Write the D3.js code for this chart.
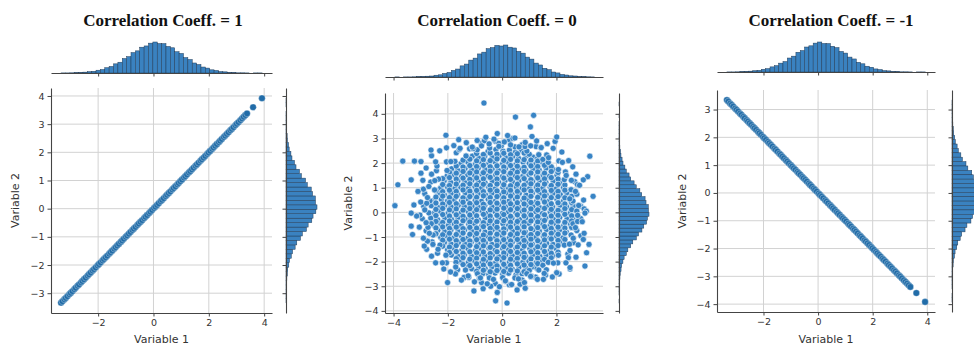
<!DOCTYPE html>
<html>
<head>
<meta charset="utf-8">
<script src="https://cdn.jsdelivr.net/npm/d3@7"></script>
<style>
  html, body { margin: 0; padding: 0; background: #fff; }
  svg { display: block; }
</style>
</head>
<body>
<svg id="chart" width="974" height="349"></svg>
<script>
const titles = ["Correlation Coeff. = 1", "Correlation Coeff. = 0", "Correlation Coeff. = -1"];
const axisLabels = ["Variable 1", "Variable 2"];

const xTicks = [[-2, 0, 2, 4], [-4, -2, 0, 2], [-2, 0, 2, 4]];
const yTicks = [[-3, -2, -1, 0, 1, 2, 3, 4], [-4, -3, -2, -1, 0, 1, 2, 3, 4], [-4, -3, -2, -1, 0, 1, 2, 3]];

// Variable 1 sample used by the +1 / -1 panels (Variable 2 = +/- Variable 1)
const lineVar1 = [-3.34, -3.29, -3.22, -3.17, -3.11, -3.04, -2.99, -2.93, -2.86, -2.81, -2.74, -2.69, -2.62, -2.57,
  -2.51, -2.45, -2.38, -2.33, -2.27, -2.2, -2.15, -2.09, -2.02, -1.97, -1.91, -1.84, -1.79, -1.73, -1.67, -1.6,
  -1.55, -1.49, -1.42, -1.37, -1.31, -1.25, -1.18, -1.13, -1.07, -1.0, -0.95, -0.89, -0.83, -0.76, -0.71, -0.65,
  -0.58, -0.53, -0.47, -0.41, -0.34, -0.29, -0.23, -0.16, -0.11, -0.05, 0.02, 0.07, 0.13, 0.19, 0.26, 0.31, 0.37,
  0.44, 0.49, 0.55, 0.61, 0.68, 0.73, 0.79, 0.86, 0.91, 0.97, 1.03, 1.1, 1.15, 1.21, 1.28, 1.33, 1.39, 1.45, 1.52,
  1.57, 1.63, 1.7, 1.75, 1.81, 1.87, 1.94, 1.99, 2.05, 2.12, 2.17, 2.23, 2.29, 2.36, 2.41, 2.47, 2.54, 2.59, 2.65,
  2.71, 2.78, 2.83, 2.89, 2.96, 3.01, 3.07, 3.14, 3.2, 3.26, 3.32, 3.38, 3.6, 3.92];

// uncorrelated cloud (Variable 1, Variable 2): dense core
const cloudCore = [
  [-0.52,2.47],[-0.23,2.55],[0.03,2.49],[0.27,2.53],[0.49,2.44],[0.71,2.52],
  [-1.1,2.28],[-0.86,2.2],[-0.64,2.29],[-0.36,2.22],[-0.11,2.3],[0.14,2.21],[0.39,2.27],[0.6,2.2],[0.89,2.3],[1.13,2.24],[1.3,2.18],
  [-1.52,1.97],[-1.26,2.04],[-0.98,1.96],[-0.76,2.03],[-0.49,1.98],[-0.26,2.05],[0.02,1.97],[0.24,2.02],[0.51,1.95],[0.77,2.04],[1.0,1.99],[1.24,1.96],[1.49,2.03],[1.66,1.95],
  [-1.86,1.77],[-1.63,1.7],[-1.37,1.78],[-1.12,1.72],[-0.88,1.8],[-0.62,1.73],[-0.37,1.76],[-0.14,1.7],[0.12,1.79],[0.38,1.72],[0.63,1.77],[0.87,1.71],[1.14,1.78],[1.36,1.73],[1.62,1.8],[1.88,1.74],
  [-2.03,1.47],[-1.76,1.53],[-1.49,1.46],[-1.27,1.52],[-1.01,1.49],[-0.74,1.55],[-0.52,1.47],[-0.24,1.52],[0.01,1.45],[0.26,1.53],[0.48,1.49],[0.76,1.46],[0.99,1.54],[1.27,1.48],[1.51,1.52],[1.74,1.46],[2.02,1.51],
  [-2.14,1.27],[-1.89,1.21],[-1.63,1.28],[-1.38,1.22],[-1.12,1.3],[-0.87,1.24],[-0.63,1.2],[-0.36,1.27],[-0.13,1.22],[0.11,1.29],[0.38,1.23],[0.62,1.28],[0.89,1.21],[1.12,1.26],[1.38,1.3],[1.61,1.22],[1.88,1.27],[2.12,1.21],
  [-2.27,0.98],[-2.01,1.03],[-1.74,0.96],[-1.52,1.02],[-1.24,0.97],[-1.0,1.05],[-0.77,0.98],[-0.49,1.02],[-0.26,0.95],[0.03,1.01],[0.24,0.97],[0.52,1.04],[0.74,0.98],[1.01,0.96],[1.26,1.03],[1.49,0.97],[1.77,1.02],[1.99,0.95],[2.26,1.01],
  [-2.36,0.77],[-2.13,0.71],[-1.87,0.78],[-1.64,0.72],[-1.36,0.79],[-1.13,0.73],[-0.88,0.76],[-0.61,0.7],[-0.38,0.78],[-0.12,0.72],[0.14,0.79],[0.36,0.73],[0.63,0.77],[0.88,0.7],[1.11,0.78],[1.39,0.74],[1.62,0.71],[1.87,0.77],[2.14,0.72],[2.38,0.79],
  [-2.52,0.48],[-2.24,0.53],[-2.01,0.46],[-1.77,0.52],[-1.49,0.47],[-1.26,0.54],[-0.99,0.49],[-0.76,0.45],[-0.51,0.53],[-0.24,0.47],[0.02,0.52],[0.26,0.46],[0.49,0.54],[0.77,0.48],[0.98,0.51],[1.27,0.45],[1.51,0.53],[1.74,0.47],[2.02,0.52],[2.26,0.46],[2.49,0.53],
  [-2.61,0.27],[-2.37,0.21],[-2.12,0.28],[-1.88,0.22],[-1.62,0.29],[-1.39,0.23],[-1.11,0.26],[-0.87,0.2],[-0.64,0.28],[-0.37,0.22],[-0.13,0.29],[0.12,0.23],[0.38,0.27],[0.61,0.21],[0.88,0.28],[1.13,0.24],[1.37,0.2],[1.64,0.27],[1.86,0.22],[2.13,0.29],[2.37,0.23],[2.62,0.26],
  [-2.49,-0.02],[-2.27,0.04],[-1.99,-0.03],[-1.76,0.03],[-1.52,-0.04],[-1.24,0.02],[-1.01,-0.01],[-0.74,0.05],[-0.52,-0.03],[-0.26,0.03],[0.01,-0.04],[0.23,0.02],[0.51,-0.02],[0.74,0.04],[1.02,-0.03],[1.24,0.03],[1.48,-0.05],[1.77,0.02],[1.99,-0.02],[2.27,0.04],[2.51,-0.03],
  [-2.63,-0.23],[-2.38,-0.29],[-2.11,-0.22],[-1.87,-0.28],[-1.63,-0.21],[-1.36,-0.27],[-1.14,-0.24],[-0.88,-0.3],[-0.62,-0.22],[-0.39,-0.28],[-0.11,-0.21],[0.13,-0.27],[0.36,-0.23],[0.64,-0.29],[0.87,-0.22],[1.12,-0.26],[1.38,-0.3],[1.61,-0.23],[1.89,-0.28],[2.12,-0.21],[2.39,-0.27],[2.6,-0.24],
  [-2.51,-0.52],[-2.26,-0.46],[-1.98,-0.53],[-1.76,-0.47],[-1.51,-0.54],[-1.23,-0.48],[-1.02,-0.45],[-0.74,-0.53],[-0.49,-0.47],[-0.27,-0.52],[0.03,-0.46],[0.24,-0.54],[0.52,-0.48],[0.76,-0.51],[0.99,-0.45],[1.26,-0.53],[1.5,-0.47],[1.77,-0.52],[1.98,-0.46],[2.27,-0.54],[2.52,-0.48],
  [-2.37,-0.73],[-2.12,-0.79],[-1.89,-0.72],[-1.62,-0.78],[-1.38,-0.71],[-1.11,-0.77],[-0.87,-0.73],[-0.63,-0.8],[-0.37,-0.72],[-0.14,-0.78],[0.12,-0.71],[0.39,-0.77],[0.62,-0.74],[0.86,-0.8],[1.13,-0.72],[1.37,-0.76],[1.63,-0.7],[1.88,-0.78],[2.11,-0.73],[2.36,-0.79],
  [-2.26,-1.02],[-2.02,-0.96],[-1.77,-1.03],[-1.49,-0.97],[-1.26,-1.04],[-0.99,-0.98],[-0.76,-1.05],[-0.52,-0.97],[-0.24,-1.02],[0.01,-0.95],[0.27,-1.03],[0.49,-0.98],[0.76,-1.04],[0.98,-0.96],[1.24,-1.01],[1.52,-0.97],[1.76,-1.04],[2.01,-0.98],[2.24,-1.03],
  [-2.13,-1.23],[-1.88,-1.29],[-1.61,-1.22],[-1.37,-1.28],[-1.14,-1.21],[-0.89,-1.27],[-0.62,-1.24],[-0.38,-1.3],[-0.11,-1.22],[0.14,-1.28],[0.37,-1.21],[0.63,-1.27],[0.88,-1.23],[1.11,-1.29],[1.38,-1.22],[1.64,-1.26],[1.87,-1.3],[2.13,-1.23],
  [-2.01,-1.52],[-1.77,-1.46],[-1.48,-1.53],[-1.26,-1.47],[-0.98,-1.54],[-0.77,-1.48],[-0.49,-1.45],[-0.26,-1.53],[0.02,-1.47],[0.24,-1.52],[0.51,-1.46],[0.74,-1.54],[1.02,-1.48],[1.23,-1.51],[1.49,-1.45],[1.77,-1.53],[1.99,-1.47],
  [-1.87,-1.73],[-1.62,-1.79],[-1.39,-1.72],[-1.13,-1.78],[-0.86,-1.71],[-0.64,-1.77],[-0.36,-1.73],[-0.12,-1.8],[0.13,-1.72],[0.37,-1.76],[0.64,-1.7],[0.86,-1.78],[1.12,-1.73],[1.39,-1.79],[1.62,-1.72],[1.86,-1.77],
  [-1.63,-2.02],[-1.51,-1.96],[-1.24,-2.03],[-1.01,-1.97],[-0.74,-2.04],[-0.52,-1.98],[-0.24,-2.05],[0.01,-1.97],[0.27,-2.02],[0.49,-1.95],[0.76,-2.03],[0.99,-1.98],[1.26,-2.04],[1.48,-1.96],[1.68,-2.01],
  [-1.28,-2.23],[-1.12,-2.29],[-0.87,-2.22],[-0.63,-2.28],[-0.38,-2.21],[-0.12,-2.27],[0.14,-2.24],[0.37,-2.3],[0.62,-2.22],[0.88,-2.27],[1.12,-2.21],[1.29,-2.28],
  [-0.71,-2.48],[-0.49,-2.53],[-0.26,-2.46],[0.02,-2.52],[0.24,-2.47],[0.51,-2.54],[0.73,-2.49]
];

// more core points in between
const cloudFill = [
  [-0.94,2.39],[-0.69,2.35],[-0.44,2.41],[-0.19,2.36],[0.06,2.4],[0.31,2.34],[0.56,2.38],[0.81,2.41],[1.0,2.36],
  [-1.44,2.12],[-1.19,2.16],[-0.94,2.09],[-0.69,2.14],[-0.44,2.1],[-0.19,2.17],[0.06,2.11],[0.31,2.15],[0.56,2.09],[0.81,2.14],[1.06,2.12],[1.31,2.08],[1.5,2.15],
  [-1.69,1.88],[-1.44,1.84],[-1.19,1.9],[-0.94,1.86],[-0.69,1.91],[-0.44,1.85],[-0.19,1.89],[0.06,1.84],[0.31,1.9],[0.56,1.87],[0.81,1.83],[1.06,1.89],[1.31,1.86],[1.56,1.91],[1.81,1.85],
  [-1.94,1.63],[-1.69,1.59],[-1.44,1.66],[-1.19,1.6],[-0.94,1.64],[-0.69,1.61],[-0.44,1.67],[-0.19,1.6],[0.06,1.65],[0.31,1.59],[0.56,1.63],[0.81,1.66],[1.06,1.6],[1.31,1.64],[1.56,1.59],[1.81,1.66],[2.06,1.62],
  [-2.19,1.37],[-1.94,1.41],[-1.69,1.35],[-1.44,1.39],[-1.19,1.34],[-0.94,1.4],[-0.69,1.36],[-0.44,1.42],[-0.19,1.35],[0.06,1.39],[0.31,1.34],[0.56,1.41],[0.81,1.37],[1.06,1.33],[1.31,1.4],[1.56,1.36],[1.81,1.41],[2.06,1.35],
  [-2.19,1.13],[-1.94,1.09],[-1.69,1.15],[-1.44,1.1],[-1.19,1.16],[-0.94,1.11],[-0.69,1.14],[-0.44,1.09],[-0.19,1.15],[0.06,1.12],[0.31,1.08],[0.56,1.14],[0.81,1.1],[1.06,1.16],[1.31,1.11],[1.56,1.15],[1.81,1.09],[2.06,1.14],[2.31,1.11],
  [-2.44,0.88],[-2.19,0.84],[-1.94,0.9],[-1.69,0.85],[-1.44,0.91],[-1.19,0.86],[-0.94,0.89],[-0.69,0.84],[-0.44,0.9],[-0.19,0.87],[0.06,0.83],[0.31,0.89],[0.56,0.85],[0.81,0.91],[1.06,0.86],[1.31,0.9],[1.56,0.84],[1.81,0.89],[2.06,0.85],[2.31,0.9],
  [-2.44,0.62],[-2.19,0.66],[-1.94,0.6],[-1.69,0.65],[-1.44,0.59],[-1.19,0.64],[-0.94,0.61],[-0.69,0.67],[-0.44,0.6],[-0.19,0.64],[0.06,0.59],[0.31,0.66],[0.56,0.62],[0.81,0.58],[1.06,0.65],[1.31,0.61],[1.56,0.66],[1.81,0.6],[2.06,0.64],[2.31,0.59],[2.56,0.65],
  [-2.44,0.38],[-2.19,0.34],[-1.94,0.4],[-1.69,0.35],[-1.44,0.41],[-1.19,0.36],[-0.94,0.39],[-0.69,0.33],[-0.44,0.4],[-0.19,0.37],[0.06,0.41],[0.31,0.35],[0.56,0.39],[0.81,0.34],[1.06,0.4],[1.31,0.37],[1.56,0.42],[1.81,0.35],[2.06,0.39],[2.31,0.34],[2.56,0.4],
  [-2.44,0.12],[-2.19,0.16],[-1.94,0.1],[-1.69,0.14],[-1.44,0.09],[-1.19,0.15],[-0.94,0.11],[-0.69,0.16],[-0.44,0.1],[-0.19,0.13],[0.06,0.17],[0.31,0.11],[0.56,0.15],[0.81,0.09],[1.06,0.14],[1.31,0.1],[1.56,0.16],[1.81,0.12],[2.06,0.08],[2.31,0.15],[2.56,0.11],
  [-2.44,-0.13],[-2.19,-0.09],[-1.94,-0.15],[-1.69,-0.1],[-1.44,-0.16],[-1.19,-0.11],[-0.94,-0.14],[-0.69,-0.08],[-0.44,-0.15],[-0.19,-0.12],[0.06,-0.09],[0.31,-0.16],[0.56,-0.1],[0.81,-0.14],[1.06,-0.11],[1.31,-0.17],[1.56,-0.1],[1.81,-0.15],[2.06,-0.12],[2.31,-0.08],[2.56,-0.14],
  [-2.44,-0.37],[-2.19,-0.41],[-1.94,-0.35],[-1.69,-0.4],[-1.44,-0.34],[-1.19,-0.39],[-0.94,-0.36],[-0.69,-0.42],[-0.44,-0.35],[-0.19,-0.39],[0.06,-0.34],[0.31,-0.4],[0.56,-0.37],[0.81,-0.41],[1.06,-0.35],[1.31,-0.39],[1.56,-0.33],[1.81,-0.4],[2.06,-0.36],[2.31,-0.41],[2.56,-0.35],
  [-2.44,-0.63],[-2.19,-0.59],[-1.94,-0.65],[-1.69,-0.6],[-1.44,-0.66],[-1.19,-0.61],[-0.94,-0.64],[-0.69,-0.58],[-0.44,-0.65],[-0.19,-0.61],[0.06,-0.67],[0.31,-0.6],[0.56,-0.64],[0.81,-0.59],[1.06,-0.66],[1.31,-0.62],[1.56,-0.58],[1.81,-0.65],[2.06,-0.6],[2.31,-0.64],[2.56,-0.61],
  [-2.44,-0.87],[-2.19,-0.91],[-1.94,-0.85],[-1.69,-0.9],[-1.44,-0.84],[-1.19,-0.89],[-0.94,-0.86],[-0.69,-0.92],[-0.44,-0.85],[-0.19,-0.89],[0.06,-0.84],[0.31,-0.9],[0.56,-0.87],[0.81,-0.83],[1.06,-0.9],[1.31,-0.86],[1.56,-0.91],[1.81,-0.85],[2.06,-0.89],[2.31,-0.84],
  [-2.19,-1.13],[-1.94,-1.09],[-1.69,-1.15],[-1.44,-1.1],[-1.19,-1.16],[-0.94,-1.11],[-0.69,-1.14],[-0.44,-1.08],[-0.19,-1.15],[0.06,-1.11],[0.31,-1.16],[0.56,-1.1],[0.81,-1.14],[1.06,-1.09],[1.31,-1.15],[1.56,-1.12],[1.81,-1.08],[2.06,-1.14],[2.31,-1.1],
  [-2.19,-1.37],[-1.94,-1.41],[-1.69,-1.35],[-1.44,-1.4],[-1.19,-1.34],[-0.94,-1.39],[-0.69,-1.36],[-0.44,-1.42],[-0.19,-1.35],[0.06,-1.39],[0.31,-1.34],[0.56,-1.41],[0.81,-1.37],[1.06,-1.33],[1.31,-1.4],[1.56,-1.36],[1.81,-1.41],[2.06,-1.35],
  [-1.94,-1.63],[-1.69,-1.59],[-1.44,-1.66],[-1.19,-1.6],[-0.94,-1.64],[-0.69,-1.61],[-0.44,-1.67],[-0.19,-1.6],[0.06,-1.65],[0.31,-1.59],[0.56,-1.63],[0.81,-1.66],[1.06,-1.6],[1.31,-1.64],[1.56,-1.59],[1.81,-1.66],[2.06,-1.62],
  [-1.69,-1.88],[-1.44,-1.84],[-1.19,-1.9],[-0.94,-1.86],[-0.69,-1.91],[-0.44,-1.85],[-0.19,-1.89],[0.06,-1.84],[0.31,-1.9],[0.56,-1.87],[0.81,-1.83],[1.06,-1.89],[1.31,-1.86],[1.56,-1.91],[1.81,-1.85],
  [-1.44,-2.12],[-1.19,-2.16],[-0.94,-2.09],[-0.69,-2.14],[-0.44,-2.1],[-0.19,-2.17],[0.06,-2.11],[0.31,-2.15],[0.56,-2.09],[0.81,-2.14],[1.06,-2.12],[1.31,-2.08],[1.5,-2.15],
  [-0.94,-2.39],[-0.69,-2.35],[-0.44,-2.41],[-0.19,-2.36],[0.06,-2.4],[0.31,-2.34],[0.56,-2.38],[0.81,-2.41],[1.0,-2.36]
];

// edge of the dense region
const cloudEdge = [
  [2.75,0.05],[2.89,0.25],[2.61,0.46],[2.75,0.74],[2.54,0.92],[2.67,1.25],[2.29,1.33],[2.33,1.64],[2.07,1.74],[2.09,2.09],
  [1.7,2.03],[1.64,2.33],[1.35,2.34],[1.25,2.67],[0.91,2.49],[0.74,2.75],[0.47,2.66],[0.26,2.94],[-0.03,2.7],[-0.25,2.89],
  [-0.46,2.61],[-0.75,2.8],[-0.92,2.54],[-1.2,2.58],[-1.33,2.29],[-1.69,2.42],[-1.74,2.07],[-2.05,2.05],[-2.03,1.7],[-2.42,1.69],
  [-2.34,1.35],[-2.63,1.23],[-2.49,0.91],[-2.85,0.76],[-2.66,0.47],[-2.89,0.25],[-2.7,-0.02],[-2.94,-0.26],[-2.61,-0.46],[-2.8,-0.75],
  [-2.54,-0.92],[-2.58,-1.2],[-2.29,-1.33],[-2.38,-1.66],[-2.07,-1.74],[-2.05,-2.05],[-1.7,-2.03],[-1.64,-2.33],[-1.35,-2.34],[-1.23,-2.63],
  [-0.91,-2.49],[-0.76,-2.85],[-0.47,-2.66],[-0.25,-2.89],[0.02,-2.65],[0.26,-2.94],[0.47,-2.66],[0.74,-2.75],[0.91,-2.49],[1.23,-2.63],
  [1.35,-2.34],[1.63,-2.33],[1.7,-2.03],[2.05,-2.05],[2.07,-1.74],[2.42,-1.69],[2.29,-1.33],[2.63,-1.23],[2.54,-0.92],[2.75,-0.74],
  [2.61,-0.46],[2.89,-0.25],
  [3.02,0.14],[2.49,0.55],[2.77,1.13],[2.36,1.5],[2.22,2.03],[1.71,2.22],[1.42,2.63],[0.84,2.67],[0.4,3.0],[-0.12,2.8],
  [-0.65,2.91],[-1.07,2.59],[-1.58,2.55],[-1.89,2.06],[-2.4,1.88],[-2.48,1.29],[-2.9,0.94],[-2.78,0.37],[-3.03,-0.11],[-2.73,-0.61],
  [-2.75,-1.17],[-2.36,-1.5],[-2.2,-2.05],[-1.71,-2.22],[-1.4,-2.64],[-0.84,-2.67],[-0.42,-3.0],[0.12,-2.8],[0.66,-2.92],[1.07,-2.59],
  [1.6,-2.55],[1.89,-2.06],[2.44,-1.84],[2.48,-1.29],[2.9,-0.95],[2.78,-0.37]
];

// sparser ring around the core
const cloudRing = [
  [-2.05,2.62],[-1.78,2.71],[-1.55,2.6],[-1.32,2.83],[-1.1,2.65],[-0.92,2.92],[-0.76,2.7],[-0.48,2.78],[-0.3,2.97],[-0.12,2.68],[0.08,2.86],[0.31,2.74],[0.47,3.02],[0.62,2.66],[0.85,2.84],[1.05,2.7],[1.27,2.9],[1.44,2.63],[1.66,2.79],[1.88,2.6],[1.95,2.88],[-1.6,2.95],[-2.3,2.5],[2.2,2.45],[-0.6,3.05],[1.1,3.08],[0.2,3.12],
  [2.45,2.1],[2.6,1.85],[2.72,1.55],[2.55,1.3],[2.85,1.1],[2.7,0.85],[3.0,0.5],[2.82,0.28],[3.1,0.05],[2.78,-0.12],[2.95,-0.38],[2.7,-0.62],[3.02,-0.85],[2.62,-1.05],[2.8,-1.32],[2.5,-1.55],[2.72,-1.82],[2.35,-2.05],[2.5,-2.3],[3.15,1.45],[3.2,-1.3],
  [2.1,-2.5],[1.85,-2.62],[1.55,-2.48],[1.3,-2.72],[1.05,-2.6],[0.82,-2.85],[0.6,-2.7],[0.35,-2.93],[0.12,-2.78],[-0.1,-3.02],[-0.32,-2.72],[-0.55,-2.9],[-0.8,-2.66],[-1.02,-2.82],[-1.25,-2.58],[-1.5,-2.75],[-1.72,-2.5],[-1.9,-2.42],[-2.15,-2.3],[0.85,-3.08],[-0.7,-3.1],[0.55,-3.15],
  [-2.45,-2.05],[-2.6,-1.78],[-2.78,-1.5],[-2.55,-1.3],[-2.9,-1.05],[-2.68,-0.85],[-3.05,-0.6],[-2.8,-0.42],[-3.15,-0.15],[-2.85,0.1],[-3.0,0.42],[-2.75,0.6],[-3.1,0.85],[-2.7,1.05],[-2.92,1.3],[-2.6,1.55],[-2.8,1.8],[-2.45,2.05],[-2.6,2.3],[-3.25,0.3],[-3.3,-0.9]
];

const cloudOutliers = [
  [-0.67,4.44],[0.49,3.87],[1.16,3.94],[1.04,3.47],[-2.07,3.13],[-0.18,3.2],[2.01,3.06],[3.23,2.28],[-3.66,2.08],[-3.23,2.08],[-2.99,2.06],[-3.84,1.12],[-3.95,0.27],[-3.35,1.32],[-2.99,1.59],[-2.62,2.53],[2.99,1.32],[3.35,0.65],[3.05,-0.03],[2.99,-1.1],[3.11,-1.64],[3.05,-2.18],[-2.01,-2.85],[-1.04,-3.19],[-0.24,-3.59],[0.18,-3.68],[-0.18,-3.25],[1.52,-2.72],[-3.35,-0.56],[-3.35,-0.03],[-2.87,-1.37],[2.01,-2.45],[2.5,-2.24]
];

// marginal histogram counts (bin start, bin width, counts)
const lineVar1Hist = { start: -3.34, width: 0.158,
  counts: [1,1,2,4,6,9,14,18,29,36,55,68,95,112,150,170,212,230,268,281,310,322,306,305,276,262,221,203,160,140,104,88,62,51,33,26,15,12,6,5,2,2,1,0,1,1] };
const cloudVar1Hist = { start: -3.95, width: 0.16,
  counts: [1,0,1,1,2,4,5,8,10,18,22,36,46,66,80,112,130,170,190,232,250,285,296,318,312,322,300,292,258,240,200,180,140,121,88,74,50,41,26,20,12,10,4,3,2,1] };
const cloudVar2Hist = { start: -3.68, width: 0.16,
  counts: [1,0,1,2,3,6,10,13,22,28,42,55,78,95,126,148,186,210,246,266,296,305,322,316,314,290,280,244,224,185,162,126,108,78,63,43,33,21,16,9,7,4,3,1,1,1,0,2,0,0,1] };

const cloudPoints = cloudCore.concat(cloudFill, cloudEdge, cloudRing, cloudOutliers);

const panels = [
  { pts: lineVar1.map(v => [v, v]), xHist: lineVar1Hist, yHist: lineVar1Hist, ySign: 1 },
  { pts: cloudPoints, xHist: cloudVar1Hist, yHist: cloudVar2Hist, ySign: 1 },
  { pts: lineVar1.map(v => [v, -v]), xHist: lineVar1Hist, yHist: lineVar1Hist, ySign: -1 }
];

const layout = [
  { L: 51, R: 272, T: 88, B: 313, topBase: 73, topPeak: 42, rightX0: 286, rightPeak: 317, titleX: 163, ylabX: 19 },
  { L: 385, R: 603, T: 93, B: 313, topBase: 77, topPeak: 45, rightX0: 619, rightPeak: 649, titleX: 497, ylabX: 352 },
  { L: 717, R: 935, T: 90, B: 312, topBase: 72, topPeak: 42, rightX0: 952, rightPeak: 982, titleX: 831, ylabX: 686 }
];

const svg = d3.select("#chart");
const fmt = d3.format("d");
const spineColor = "#444";

function padded(ext) {
  const d = (ext[1] - ext[0]) * 0.05;
  return [ext[0] - d, ext[1] + d];
}

function styleAxis(sel, showLabels) {
  sel.attr("font-family", "DejaVu Sans, sans-serif").attr("font-size", 9.5);
  sel.select(".domain").attr("stroke", spineColor).attr("stroke-width", 1.1);
  sel.selectAll(".tick line").attr("stroke", spineColor).attr("stroke-width", 1);
  sel.selectAll(".tick text").attr("fill", "#333");
  if (!showLabels) sel.selectAll(".tick text").remove();
}

panels.forEach((p, i) => {
  const lay = layout[i];
  const g = svg.append("g");

  const x = d3.scaleLinear().domain(padded(d3.extent(p.pts, d => d[0]))).range([lay.L, lay.R]);
  const y = d3.scaleLinear().domain(padded(d3.extent(p.pts, d => d[1]))).range([lay.B, lay.T]);

  // grid
  g.append("g").selectAll("line").data(xTicks[i]).join("line")
    .attr("x1", d => x(d)).attr("x2", d => x(d)).attr("y1", lay.T).attr("y2", lay.B)
    .attr("stroke", "#d2d2d2").attr("stroke-width", 1);
  g.append("g").selectAll("line").data(yTicks[i]).join("line")
    .attr("y1", d => y(d)).attr("y2", d => y(d)).attr("x1", lay.L).attr("x2", lay.R)
    .attr("stroke", "#d2d2d2").attr("stroke-width", 1);

  // scatter
  const isCloud = i === 1;
  g.append("g").selectAll("circle").data(p.pts).join("circle")
    .attr("cx", d => x(d[0])).attr("cy", d => y(d[1]))
    .attr("r", isCloud ? 3.1 : 3.3)
    .attr("fill", isCloud ? "#3884c5" : "#216ca8")
    .attr("stroke", "#fff").attr("stroke-width", isCloud ? 0.6 : 0.3);

  // top marginal histogram
  const hx = p.xHist;
  const cTop = d3.scaleLinear().domain([0, d3.max(hx.counts)]).range([lay.topBase, lay.topPeak]);
  g.append("g").selectAll("rect").data(hx.counts).join("rect")
    .attr("x", (c, j) => x(hx.start + j * hx.width))
    .attr("width", (c, j) => x(hx.start + (j + 1) * hx.width) - x(hx.start + j * hx.width))
    .attr("y", c => cTop(c))
    .attr("height", c => lay.topBase - cTop(c))
    .attr("fill", "#3a82c0").attr("stroke", "#223c58").attr("stroke-width", 0.5);

  // right marginal histogram
  const hy = p.yHist;
  const cRight = d3.scaleLinear().domain([0, d3.max(hy.counts)]).range([lay.rightX0, lay.rightPeak]);
  g.append("g").selectAll("rect").data(hy.counts).join("rect")
    .attr("y", (c, j) => {
      const a = p.ySign * (hy.start + j * hy.width), b = p.ySign * (hy.start + (j + 1) * hy.width);
      return y(Math.max(a, b));
    })
    .attr("height", (c, j) => {
      const a = p.ySign * (hy.start + j * hy.width), b = p.ySign * (hy.start + (j + 1) * hy.width);
      return y(Math.min(a, b)) - y(Math.max(a, b));
    })
    .attr("x", lay.rightX0)
    .attr("width", c => cRight(c) - lay.rightX0)
    .attr("fill", "#3a82c0").attr("stroke", "#223c58").attr("stroke-width", 0.5);

  // axes
  g.append("g").attr("transform", `translate(0,${lay.B})`)
    .call(d3.axisBottom(x).tickValues(xTicks[i]).tickFormat(fmt).tickSize(3.5).tickSizeOuter(0).tickPadding(3))
    .call(s => styleAxis(s, true));
  g.append("g").attr("transform", `translate(${lay.L},0)`)
    .call(d3.axisLeft(y).tickValues(yTicks[i]).tickFormat(fmt).tickSize(3.5).tickSizeOuter(0).tickPadding(3))
    .call(s => styleAxis(s, true));
  g.append("g").attr("transform", `translate(0,${lay.topBase})`)
    .call(d3.axisBottom(x).tickValues(xTicks[i]).tickSize(3.5).tickSizeOuter(0))
    .call(s => styleAxis(s, false));
  g.append("g").attr("transform", `translate(${lay.rightX0},0)`)
    .call(d3.axisLeft(y).tickValues(yTicks[i]).tickSize(3.5).tickSizeOuter(0))
    .call(s => styleAxis(s, false));

  // labels
  g.append("text")
    .attr("x", lay.titleX).attr("y", 26)
    .attr("text-anchor", "middle")
    .attr("font-family", "Liberation Serif, Times New Roman, serif")
    .attr("font-weight", "bold").attr("font-size", 17).attr("fill", "#111")
    .text(titles[i]);
  g.append("text")
    .attr("x", (lay.L + lay.R) / 2).attr("y", 343)
    .attr("text-anchor", "middle")
    .attr("font-family", "DejaVu Sans, sans-serif").attr("font-size", 11).attr("fill", "#333")
    .text(axisLabels[0]);
  g.append("text")
    .attr("transform", `translate(${lay.ylabX},${(lay.T + lay.B) / 2}) rotate(-90)`)
    .attr("text-anchor", "middle")
    .attr("font-family", "DejaVu Sans, sans-serif").attr("font-size", 11).attr("fill", "#333")
    .text(axisLabels[1]);
});
</script>
</body>
</html>
